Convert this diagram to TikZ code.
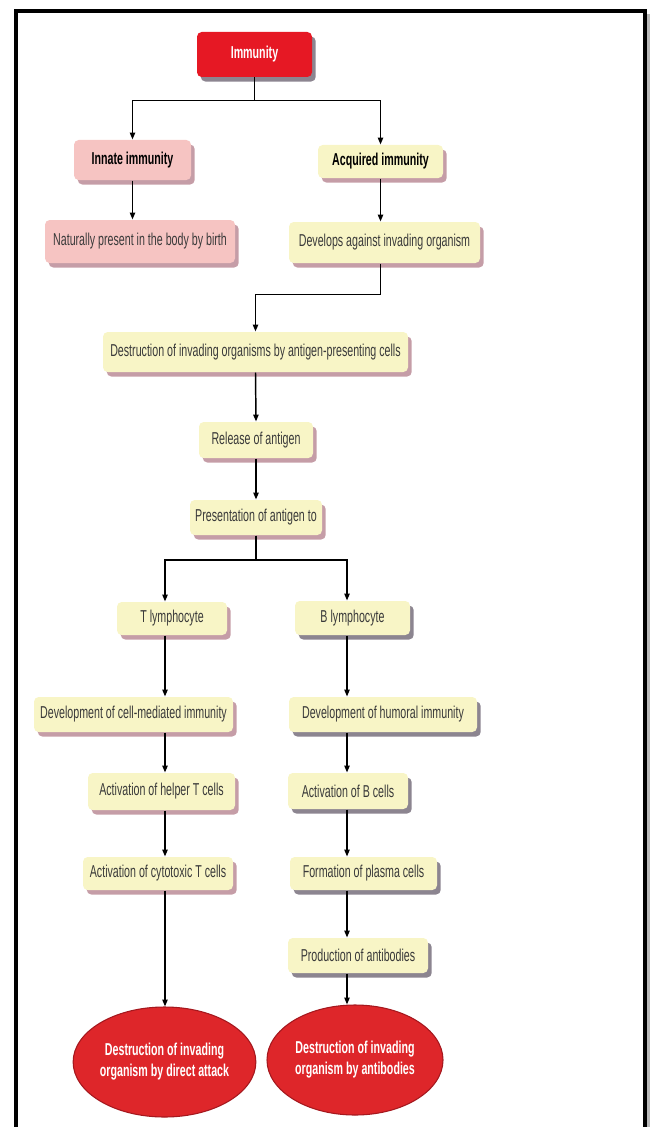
\documentclass[tikz,border=0pt]{standalone}
\usepackage{fontspec}
\setmainfont{Liberation Sans}[FakeStretch=0.62]
\usetikzlibrary{arrows.meta,shapes.geometric,shadows}

\definecolor{cImmRed}{RGB}{230,24,36}
\definecolor{cOval}{RGB}{222,38,42}
\definecolor{cOvalLine}{RGB}{165,24,30}
\definecolor{cPink}{RGB}{246,196,194}
\definecolor{cYel}{RGB}{248,245,198}
\definecolor{cTxt}{RGB}{58,58,58}
\definecolor{cShPink}{RGB}{140,60,80}
\definecolor{cShDark}{RGB}{45,32,52}

\tikzset{every picture/.style={line width=0.75pt}}
\tikzset{
  wh/.style 2 args={minimum width=#1*0.75pt, minimum height=#2*0.75pt},
  flowbox/.style={rectangle, rounded corners=3.5pt, inner sep=0pt, align=center,
    font=\fontsize{12.9}{15.75}\selectfont, text=cTxt},
  shleft/.style={drop shadow={shadow xshift=2.8pt, shadow yshift=-3.4pt, fill=cShPink, opacity=0.5}},
  shright/.style={drop shadow={shadow xshift=2.8pt, shadow yshift=-3.4pt, fill=cShDark, opacity=0.55}},
  pinknode/.style={flowbox, fill=cPink, shleft},
  yelnodeL/.style={flowbox, fill=cYel, shleft},
  yelnodeR/.style={flowbox, fill=cYel, shright},
  rednode/.style={flowbox, fill=cImmRed, text=white, shright},
  oval/.style={ellipse, fill=cOval, draw=cOvalLine, line width=0.8pt, inner sep=0pt,
    align=center, text=white, font=\fontsize{12.9}{15.75}\selectfont\bfseries},
  arr/.style={-{Triangle[width=4pt,length=5.2pt]}, line width=1.1pt}
}

\begin{document}
\begin{tikzpicture}[x=0.75pt,y=0.75pt,yscale=-1]
	\useasboundingbox (0,0) rectangle (650,1127);
	
	%Frame
	\draw [gray!55, line width=1.6pt] (648.5,14) -- (648.5,1127) ;
	\draw [line width=2.4pt] (16,1127) -- (16,11) -- (645,11) -- (645,1127) ;
	
	%Top part
	\node [rednode, wh={115}{45}] (imm) at (254.5,54.5) {\textbf{Immunity}};
	\node [pinknode, wh={117}{40}] (innate) at (132.5,160) {\textbf{\color{black}Innate immunity}};
	\node [yelnodeL, wh={125}{33}] (acq) at (380.5,161.5) {\textbf{\color{black}Acquired immunity}};
	\node [pinknode, wh={190}{43}] (nat) at (140,241.5) {Naturally present in the body by birth};
	\node [yelnodeL, wh={191}{41}] (dev) at (384.5,242.5) {Develops against invading organism};
	
	%Middle part
	\node [yelnodeL, wh={305}{40}] (dest) at (255.5,352) {Destruction of invading organisms by antigen-presenting cells};
	\node [yelnodeL, wh={114}{36}] (rel) at (256,440) {Release of antigen};
	\node [yelnodeL, wh={132}{35}] (pres) at (256,517.5) {Presentation of antigen to};
	
	%Left branch
	\coordinate (spL) at (165,560);
	\node [yelnodeL, wh={110}{33}] (tl) at (172,618.5) {T lymphocyte};
	\node [yelnodeL, wh={199}{35}] (dcm) at (133.5,714.5) {Development of cell-mediated immunity};
	\node [yelnodeL, wh={147}{37}] (aht) at (161.5,791.5) {Activation of helper T cells};
	\node [yelnodeL, wh={150}{33}] (act) at (158,873.5) {Activation of cytotoxic T cells};
	\node [oval, wh={175}{110}] (ovL) at (164.5,1062) {Destruction of invading\\organism by direct attack};
	
	%Right branch
	\coordinate (spR) at (347,560);
	\node [yelnodeR, wh={115}{34}] (bl) at (352.5,618) {B lymphocyte};
	\node [yelnodeR, wh={188}{35}] (dhi) at (383,714.5) {Development of humoral immunity};
	\node [yelnodeR, wh={120}{36}] (abc) at (348,791) {Activation of B cells};
	\node [yelnodeR, wh={147}{33}] (fpc) at (363.5,873.5) {Formation of plasma cells};
	\node [yelnodeR, wh={140}{35}] (pab) at (358,955.5) {Production of antibodies};
	\node [oval, wh={176}{110}] (ovR) at (355,1060) {Destruction of invading\\organism by antibodies};
	
	%Connectors
	\draw [arr] (imm.south) -- ++(0,23) -| (innate.north) ;
	\draw [arr] (imm.south) -- ++(0,23) -| (acq.north) ;
	\draw [arr] (innate.south) -- (innate.south |- nat.north) ;
	\draw [arr] (acq.south) -- (acq.south |- dev.north) ;
	\draw [arr] (acq.south |- dev.south) -- ++(0,31) -| (dest.north) ;
	\draw [arr] (dest.south) -- (rel.north) ;
	\draw [arr] (rel.south) -- (pres.north) ;
	\draw [arr] (pres.south) |- (spL) -- (spL |- tl.north) ;
	\draw [arr] (pres.south) |- (spR) -- (spR |- bl.north) ;
	
	\draw [arr] (spL |- tl.south) -- (spL |- dcm.north) ;
	\draw [arr] (spL |- dcm.south) -- (spL |- aht.north) ;
	\draw [arr] (spL |- aht.south) -- (spL |- act.north) ;
	\draw [arr] (spL |- act.south) -- (spL |- ovL.north) ;
	
	\draw [arr] (spR |- bl.south) -- (spR |- dhi.north) ;
	\draw [arr] (spR |- dhi.south) -- (spR |- abc.north) ;
	\draw [arr] (spR |- abc.south) -- (spR |- fpc.north) ;
	\draw [arr] (spR |- fpc.south) -- (spR |- pab.north) ;
	\draw [arr] (spR |- pab.south) -- (spR |- ovR.north) ;
	
\end{tikzpicture}
\end{document}
